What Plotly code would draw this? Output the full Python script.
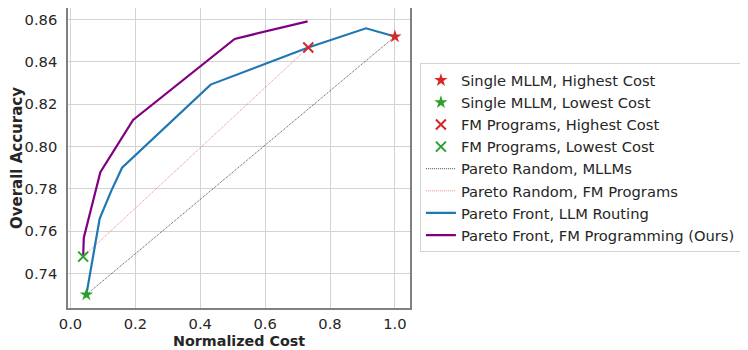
import plotly.graph_objects as go

# ---- data ----
single_high_x = [1.0]
single_high_y = [0.852]
single_low_x = [0.049]
single_low_y = [0.730]
fm_high_x = [0.733]
fm_high_y = [0.8468]
fm_low_x = [0.039]
fm_low_y = [0.748]

routing_x = [0.049, 0.090, 0.126, 0.159, 0.432, 0.733, 0.911, 1.0]
routing_y = [0.730, 0.766, 0.7792, 0.790, 0.8293, 0.8468, 0.8559, 0.852]

fmprog_x = [0.039, 0.041, 0.092, 0.193, 0.506, 0.731]
fmprog_y = [0.748, 0.7569, 0.7879, 0.8126, 0.8509, 0.8592]

x_ticks = [0.0, 0.2, 0.4, 0.6, 0.8, 1.0]
y_ticks = [0.74, 0.76, 0.78, 0.80, 0.82, 0.84, 0.86]

RED = "#d62728"
GREEN = "#2ca02c"
BLUE = "#1f77b4"
PURPLE = "#800080"
FONT = "DejaVu Sans"

fig = go.Figure()

# random lines
fig.add_trace(go.Scatter(
    x=[single_low_x[0], single_high_x[0]], y=[single_low_y[0], single_high_y[0]],
    mode="lines", name="Pareto Random, MLLMs",
    line=dict(color="black", width=0.7, dash="1px,1px"), legendrank=5))
fig.add_trace(go.Scatter(
    x=[fm_low_x[0], fm_high_x[0]], y=[fm_low_y[0], fm_high_y[0]],
    mode="lines", name="Pareto Random, FM Programs",
    line=dict(color="rgba(226,80,80,0.85)", width=0.8, dash="1px,1px"), legendrank=6))
fig.add_trace(go.Scatter(
    x=routing_x, y=routing_y, mode="lines", name="Pareto Front, LLM Routing",
    line=dict(color=BLUE, width=2.2), legendrank=7))
fig.add_trace(go.Scatter(
    x=fmprog_x, y=fmprog_y, mode="lines", name="Pareto Front, FM Programming (Ours)",
    line=dict(color=PURPLE, width=2.2), legendrank=8))

# markers
fig.add_trace(go.Scatter(
    x=single_high_x, y=single_high_y, mode="markers", name="Single MLLM, Highest Cost",
    marker=dict(symbol="star", size=10, color=RED, line=dict(width=0)), legendrank=1))
fig.add_trace(go.Scatter(
    x=single_low_x, y=single_low_y, mode="markers", name="Single MLLM, Lowest Cost",
    marker=dict(symbol="star", size=10, color=GREEN, line=dict(width=0)), legendrank=2))
fig.add_trace(go.Scatter(
    x=fm_high_x, y=fm_high_y, mode="markers", name="FM Programs, Highest Cost",
    marker=dict(symbol="x-thin", size=10, color=RED, line=dict(width=2, color=RED)), legendrank=3))
fig.add_trace(go.Scatter(
    x=fm_low_x, y=fm_low_y, mode="markers", name="FM Programs, Lowest Cost",
    marker=dict(symbol="x-thin", size=10, color=GREEN, line=dict(width=2, color=GREEN)), legendrank=4))

axis_common = dict(
    showgrid=True, gridcolor="#d3d3d3", gridwidth=1,
    showline=True, linecolor="#808080", linewidth=1.5, mirror=True,
    zeroline=False, ticks="", automargin=False,
    tickfont=dict(family=FONT, size=14.7, color="#262626"),
)

# the page body adds an 8px offset; the figure is sized to fill the rest of the window
fig.update_layout(
    width=740, height=342,
    margin=dict(l=60, r=338, t=0, b=42),
    paper_bgcolor="white", plot_bgcolor="white",
    font=dict(family=FONT, color="#262626"),
    xaxis=dict(range=[-0.0077, 1.0466], tickvals=x_ticks, tickformat=".1f",
               ticklabelstandoff=2, **axis_common),
    yaxis=dict(range=[0.7237, 0.8655], tickvals=y_ticks, tickformat=".2f",
               ticklabelstandoff=6,
               title=dict(text="<b>Overall Accuracy</b>", font=dict(family=FONT, size=15), standoff=2),
               **axis_common),
    legend=dict(x=1.029, y=0.816, xanchor="left", yanchor="top",
                bordercolor="#d3d3d3", borderwidth=1, bgcolor="white",
                font=dict(family=FONT, size=14.7, color="#262626"),
                tracegroupgap=0, traceorder="normal"),
    showlegend=True,
    annotations=[dict(text="<b>Normalized Cost</b>", xref="paper", yref="paper",
                      x=0.5, y=-0.139, xanchor="center", yanchor="bottom",
                      borderpad=0, showarrow=False,
                      font=dict(family=FONT, size=14.3, color="#262626"))],
)

fig.write_html("out.html")
